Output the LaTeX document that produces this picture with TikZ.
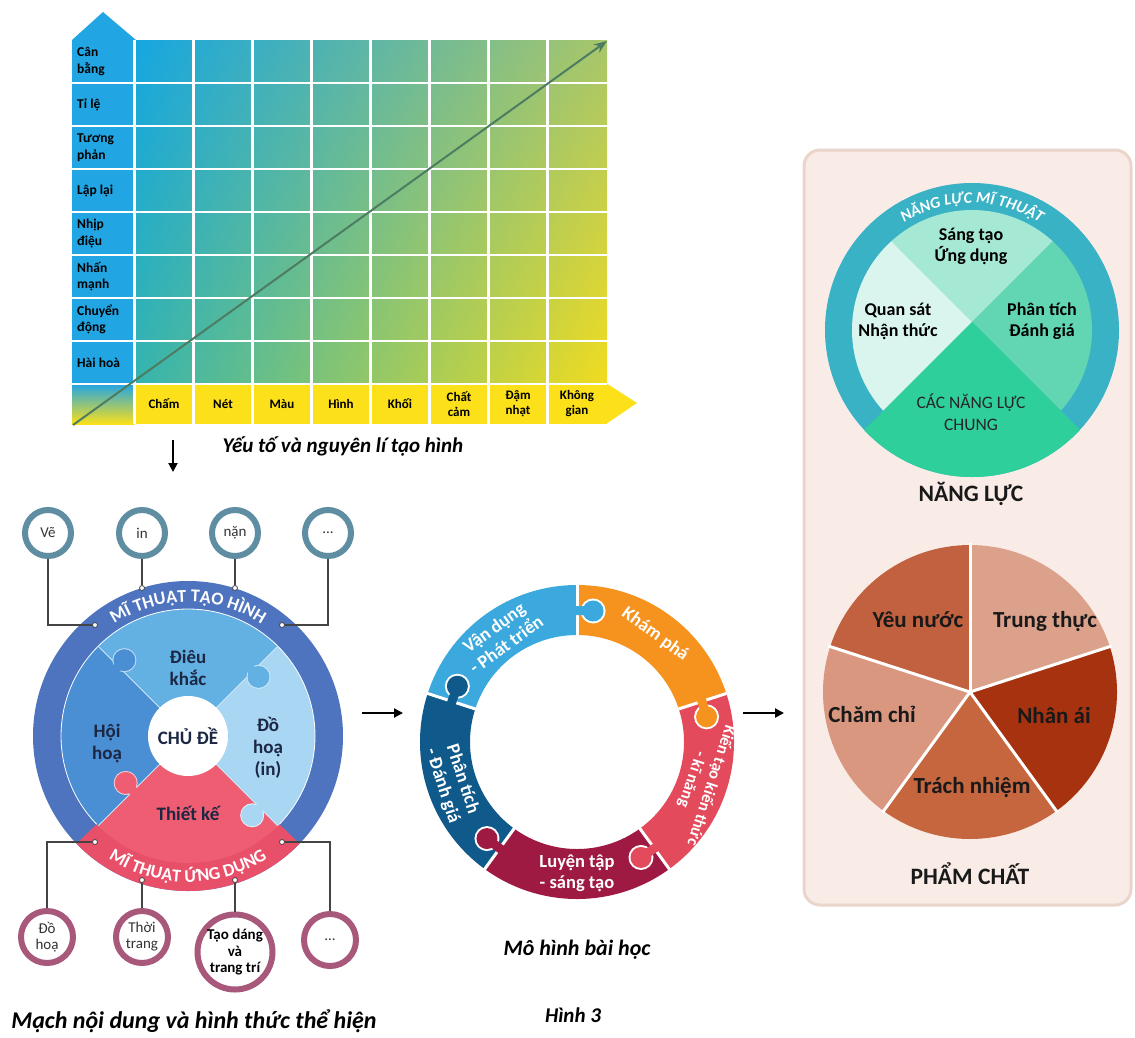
\documentclass[tikz,border=0pt]{standalone}
\usepackage{fontspec}
\setmainfont{Carlito}
\usetikzlibrary{arrows.meta,calc,decorations.text,shadings}
\definecolor{gridblue}{HTML}{22A5E3}
\definecolor{gridyellow}{HTML}{FBE01A}
\definecolor{shadeTL}{HTML}{15A6E1}
\definecolor{shadeTR}{HTML}{A8C66A}
\definecolor{shadeBL}{HTML}{35B4AE}
\definecolor{shadeBR}{HTML}{F1DC1F}
\definecolor{trendgreen}{HTML}{4C7D62}
\definecolor{ringblue}{HTML}{4E73BF}
\definecolor{hoihoa}{HTML}{4A8ED3}
\definecolor{dieukhac}{HTML}{63B0E3}
\definecolor{dohoa}{HTML}{A9D6F3}
\definecolor{thietke}{HTML}{EF5D72}
\definecolor{bandpink}{HTML}{E8506A}
\definecolor{navytext}{HTML}{1C2744}
\definecolor{steelring}{HTML}{5F8EA3}
\definecolor{mauvering}{HTML}{A8587A}
\definecolor{connGray}{HTML}{444444}
\definecolor{khampha}{HTML}{F6921E}
\definecolor{kientao}{HTML}{E34A5C}
\definecolor{luyentap}{HTML}{9E1A42}
\definecolor{phantich}{HTML}{105A8B}
\definecolor{vandung}{HTML}{3BA9DD}
\definecolor{panelfill}{HTML}{F9ECE7}
\definecolor{panelline}{HTML}{EAD5CB}
\definecolor{ringteal}{HTML}{38B2C4}
\definecolor{sangtao}{HTML}{A5E8D3}
\definecolor{quansat}{HTML}{D9F5EE}
\definecolor{phantichdg}{HTML}{62D5B2}
\definecolor{nlchung}{HTML}{2FCF9C}
\definecolor{yeunuoc}{HTML}{C1613F}
\definecolor{trungthuc}{HTML}{DBA18B}
\definecolor{nhanai}{HTML}{A6320F}
\definecolor{trachnhiem}{HTML}{C5663F}
\definecolor{chamchi}{HTML}{D9977F}

\tikzset{
  rowlbl/.style={anchor=west,align=left,inner sep=0pt,font=\bfseries\fontsize{13.5}{16.5}\selectfont},
  collbl/.style={align=center,inner sep=0pt,font=\bfseries\fontsize{13}{15}\selectfont},
  gridline/.style={white,line width=2.5pt},
  trend/.style={trendgreen,line width=2pt,-{Stealth[length=13pt,width=10pt]}},
  flow/.style={black,line width=2pt,-{Triangle[length=9pt,width=9pt]}},
  captxt/.style={font=\bfseries\itshape\fontsize{21}{23}\selectfont},
  piecelbl/.style={align=center,text=navytext,font=\bfseries\fontsize{19}{22}\selectfont},
  topcirc/.style={circle,draw=steelring,line width=6pt,fill=white,minimum size=46pt,inner sep=0pt,
    text=black!80,font=\fontsize{15}{16}\selectfont},
  botcirc/.style={circle,draw=mauvering,line width=6pt,fill=white,minimum size=52pt,inner sep=0pt,
    align=center,text=black!80,font=\fontsize{15}{16}\selectfont},
  dot/.style={circle,draw=connGray,fill=white,line width=0.8pt,inner sep=0pt,minimum size=5pt},
  conn/.style={connGray,line width=1.2pt},
  ringlbl/.style={align=center,text=white,font=\bfseries\fontsize{18.5}{21}\selectfont},
  quadlbl/.style={align=center,font=\bfseries\fontsize{18}{21}\selectfont},
  pentalbl/.style={font=\bfseries\fontsize{23}{25}\selectfont,text=black!90},
  paneltitle/.style={font=\bfseries\fontsize{23.5}{25}\selectfont,text=black!90}
}

\begin{document}
\begin{tikzpicture}[x=1pt,y=-1pt]
  \useasboundingbox (0,0) rectangle (1135,1037);

  % grid of elements and principles
  \fill[gridblue] (72,40) -- (103,12) -- (136,40) -- cycle;
  \fill[gridblue] (72,40) rectangle (134.5,384);
  \shade[upper left=shadeTL,upper right=shadeTR,lower left=shadeBL,lower right=shadeBR]
    (134.5,40) rectangle (607,384);
  \fill[gridyellow] (134.5,384) rectangle (607,424);
  \fill[gridyellow] (606,383) -- (637,403) -- (606,424) -- cycle;
  \shade[top color=gridblue,bottom color=gridyellow] (72,384) rectangle (134.5,424);
  \foreach \i in {0,...,7} \draw[gridline] ({134.5+59*\i},40) -- ({134.5+59*\i},424);
  \foreach \j in {1,...,8} \draw[gridline] (72,{40+43*\j}) -- (607,{40+43*\j});
  \coordinate (gs) at (73,425);
  \coordinate (ge) at (607,41);
  \draw[trend] (gs) -- (ge);
  \foreach \lbl [count=\i from 0] in {{Cân\\bằng},{Tỉ lệ},{Tương\\phản},{Lập lại},{Nhịp\\điệu},{Nhấn\\mạnh},{Chuyển\\động},{Hài hoà}}
    \node[rowlbl] (row\i) at (77,{61.5+43*\i}) {\lbl};
  \foreach \lbl [count=\i from 0] in {Chấm,Nét,Màu,Hình,Khối,{Chất\\cảm},{Đậm\\nhạt},{Không\\gian}}
    \node[collbl] (col\i) at ({164+59*\i},404) {\lbl};
  \node[captxt] (capgrid) at (343,446) {Yếu tố và nguyên lí tạo hình};
  \coordinate (dn1) at (173,440);
  \coordinate (dn2) at (173,472);
  \draw[flow] (dn1) -- (dn2);

  % content strands circle
  \coordinate (mt) at (188,736);
  \fill[ringblue] (mt) circle (155pt);
  \fill[bandpink] (mt) -- ([shift={(224:155pt)}]mt) arc[start angle=224,end angle=316,radius=155pt] -- cycle;
  \fill[dieukhac] (mt) -- ([shift={(45:127pt)}]mt) arc[start angle=45,end angle=135,radius=127pt] -- cycle;
  \fill[hoihoa] (mt) -- ([shift={(135:127pt)}]mt) arc[start angle=135,end angle=225,radius=127pt] -- cycle;
  \fill[dohoa] (mt) -- ([shift={(-45:127pt)}]mt) arc[start angle=-45,end angle=45,radius=127pt] -- cycle;
  \fill[thietke] (mt) -- ([shift={(225:127pt)}]mt) arc[start angle=225,end angle=315,radius=127pt] -- cycle;
  \draw[white,line width=0.8pt] ([shift={(-44:127pt)}]mt) arc[start angle=-44,end angle=224,radius=127pt];
  \foreach \b in {45,135,225,315} \draw[white!70!dieukhac,line width=1pt] (mt) -- ([shift={(\b:127pt)}]mt);
  \foreach \a/\r/\n/\col in {130/99/140/hoihoa,40/92/50/dieukhac,-51/102/-40/dohoa,217/78/229/thietke}{
    \fill[white!70!\col] ([shift={(\a:\r pt)}]mt) circle (12pt);
    \draw[\col,line width=9pt] ([shift={(\a:\r pt)}]mt) -- ([shift={(\n:\r pt)}]mt);
    \fill[\col] ([shift={(\a:\r pt)}]mt) circle (11pt);
  }
  \fill[white] (mt) circle (40pt);
  \path[decorate,decoration={text along path,text align=center,
      text={|\color{white}\bfseries\fontsize{18}{18}\selectfont|MĨ THUẬT TẠO HÌNH}}]
    ([shift={(150:134pt)}]mt) arc[start angle=150,end angle=30,radius=134pt];
  \path[decorate,decoration={text along path,text align=center,
      text={|\color{white}\bfseries\fontsize{18}{18}\selectfont|MĨ THUẬT ỨNG DỤNG}}]
    ([shift={(215:146pt)}]mt) arc[start angle=215,end angle=325,radius=146pt];
  \node[piecelbl] (dk) at (188,668) {Điêu\\khắc};
  \node[piecelbl] (hh) at (107,744) {Hội\\hoạ};
  \node[piecelbl] (dh) at (268,748) {Đồ\\hoạ\\(in)};
  \node[piecelbl] (tk) at (188,813) {Thiết kế};
  \node[piecelbl] (cd) at (mt) {CHỦ ĐỀ};

  \node[topcirc] (ve) at (48,533) {Vẽ};
  \node[topcirc] (in) at (142,533) {in};
  \node[topcirc] (nan) at (235,533) {nặn};
  \node[topcirc] (etc1) at (328,533) {...};
  \node[dot] (dve) at (95,625) {};
  \node[dot] (din) at (142,588) {};
  \node[dot] (dnan) at (235,588) {};
  \node[dot] (detc1) at (282,625) {};
  \draw[conn] (ve) |- (dve);
  \draw[conn] (in) -- (din);
  \draw[conn] (nan) -- (dnan);
  \draw[conn] (etc1) |- (detc1);

  \node[botcirc] (doh) at (47,937) {Đồ\\hoạ};
  \node[botcirc] (tt) at (142,937) {Thời\\trang};
  \node[botcirc,minimum size=75pt,text=black,font=\bfseries\fontsize{15}{16.5}\selectfont] (tdtt) at (235,952) {Tạo dáng\\và\\trang trí};
  \node[botcirc] (etc2) at (330,940) {...};
  \node[dot] (ddoh) at (95,842) {};
  \node[dot] (dtt) at (142,880) {};
  \node[dot] (dtdtt) at (235,880) {};
  \node[dot] (detc2) at (282,842) {};
  \draw[conn] (doh) |- (ddoh);
  \draw[conn] (tt) -- (dtt);
  \draw[conn] (tdtt) -- (dtdtt);
  \draw[conn] (etc2) |- (detc2);
  \node[captxt,font=\bfseries\itshape\fontsize{24}{26}\selectfont] (capmach) at (194,1021) {Mạch nội dung và hình thức thể hiện};

  % lesson model ring
  \coordinate (f1a) at (362,713);
  \coordinate (f1b) at (403,713);
  \draw[flow] (f1a) -- (f1b);
  \coordinate (mr) at (577,742);
  \foreach \a/\col in {18/khampha,-54/kientao,-126/luyentap,162/phantich,90/vandung}
    \fill[\col] ([shift={(\a:157pt)}]mr) arc[start angle=\a,delta angle=72,radius=157pt]
      -- ([shift={({\a+72}:107pt)}]mr) arc[start angle={\a+72},delta angle=-72,radius=107pt] -- cycle;
  \foreach \b in {90,18,-54,-126,162} \draw[white,line width=3pt] ([shift={(\b:104pt)}]mr) -- ([shift={(\b:160pt)}]mr);
  \foreach \b/\col in {90/vandung,18/khampha,-54/kientao,-126/luyentap,162/phantich}{
    \fill[white] ([shift={({\b-7}:132pt)}]mr) circle (12.5pt);
    \draw[\col,line width=9pt] ([shift={({\b-7}:132pt)}]mr) -- ([shift={({\b+4}:132pt)}]mr);
    \fill[\col] ([shift={({\b-7}:132pt)}]mr) circle (10.5pt);
  }
  \node[ringlbl,rotate=36] (vd) at ([shift={(126:131pt)}]mr) {Vận dụng\\- Phát triển};
  \node[ringlbl,rotate=-36] (kp) at ([shift={(54:133pt)}]mr) {Khám phá};
  \node[ringlbl,rotate=-108,font=\bfseries\fontsize{16.5}{20}\selectfont] (kt) at ([shift={(-18:131pt)}]mr) {Kiến tạo kiến thức\\- kĩ năng};
  \node[ringlbl] (lt) at ([shift={(-90:131pt)}]mr) {Luyện tập\\- sáng tạo};
  \node[ringlbl,rotate=-72] (ptdg) at ([shift={(198:131pt)}]mr) {Phân tích\\- Đánh giá};
  \node[captxt,font=\bfseries\itshape\fontsize{22}{24}\selectfont] (capmo) at (577,950) {Mô hình bài học};
  \node[captxt,font=\bfseries\itshape\fontsize{21}{23}\selectfont] (caphinh) at (573,1015) {Hình 3};
  \coordinate (f2a) at (743,713);
  \coordinate (f2b) at (784,713);
  \draw[flow] (f2a) -- (f2b);

  % competences and qualities panel
  \draw[panelline,fill=panelfill,line width=3pt,rounded corners=16pt] (804,150) rectangle (1131,905);
  \coordinate (nc) at (972,330);
  \coordinate (np) at (972,322);
  \fill[ringteal] (nc) circle (147pt);
  \begin{scope}
    \clip (nc) circle (120pt);
    \fill[sangtao] (np) -- ($(np)+(45:220pt)$) -- ($(np)+(135:220pt)$) -- cycle;
    \fill[quansat] (np) -- ($(np)+(135:220pt)$) -- ($(np)+(225:220pt)$) -- cycle;
    \fill[phantichdg] (np) -- ($(np)+(-45:220pt)$) -- ($(np)+(45:220pt)$) -- cycle;
  \end{scope}
  \begin{scope}
    \clip (nc) circle (147pt);
    \fill[nlchung] (np) -- ($(np)+(225:260pt)$) -- ($(np)+(-45:260pt)$) -- cycle;
  \end{scope}
  \path[decorate,decoration={text along path,text align=center,
      text={|\color{white}\bfseries\itshape\fontsize{16}{16}\selectfont|NĂNG LỰC MĨ THUẬT}}]
    ([shift={(148:127pt)}]nc) arc[start angle=148,end angle=32,radius=127pt];
  \node[quadlbl] (st) at (971,246) {Sáng tạo\\Ứng dụng};
  \node[quadlbl] (qs) at (898,321) {Quan sát\\Nhận thức};
  \node[quadlbl] (pd) at (1042,321) {Phân tích\\Đánh giá};
  \node[align=center,font=\fontsize{17.5}{22}\selectfont,text=black!85] (chung) at (971,412) {CÁC NĂNG LỰC\\CHUNG};
  \node[paneltitle] (nangluc) at (971,494) {NĂNG LỰC};

  \coordinate (pc) at (970,692);
  \foreach \a/\col in {90/yeunuoc,18/trungthuc,-54/nhanai,-126/trachnhiem,162/chamchi}
    \fill[\col] (pc) -- ([shift={(\a:147pt)}]pc) arc[start angle=\a,delta angle=72,radius=147pt] -- cycle;
  \foreach \b in {90,18,-54,-126,162} \draw[white,line width=3pt] (pc) -- ([shift={(\b:149pt)}]pc);
  \node[pentalbl] (yn) at (918,620) {Yêu nước};
  \node[pentalbl] (trt) at (1045,621) {Trung thực};
  \node[pentalbl] (cc) at (872,714) {Chăm chỉ};
  \node[pentalbl] (na) at (1054,716) {Nhân ái};
  \node[pentalbl] (tn) at (972,787) {Trách nhiệm};
  \node[paneltitle] (phamchat) at (970,874) {PHẨM CHẤT};
\end{tikzpicture}
\end{document}
